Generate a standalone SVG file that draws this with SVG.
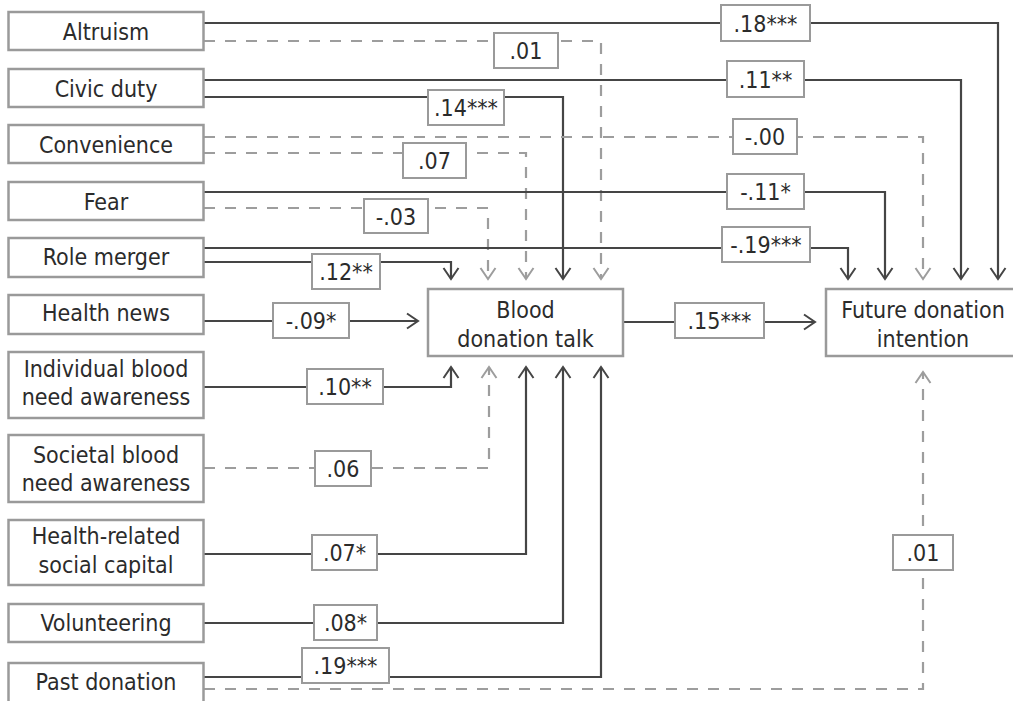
<svg xmlns="http://www.w3.org/2000/svg" width="1013" height="701" viewBox="0 0 1013 701">
<style>
.node rect{fill:#fff;stroke:#9a9a9a;stroke-width:2.5}
.node text,.lbl text{font-family:"DejaVu Sans Condensed","DejaVu Sans",sans-serif;font-stretch:condensed;font-size:23px;fill:#2b2b2b;text-anchor:middle}
.lbl rect{fill:#fff;stroke:#9a9a9a;stroke-width:2}
.s{fill:none;stroke:#454545;stroke-width:2.2;marker-end:url(#ah)}
.d{fill:none;stroke:#9d9d9d;stroke-width:2.2;stroke-dasharray:11 10;marker-end:url(#ahd)}
</style>
<defs>
<marker id="ah" markerUnits="userSpaceOnUse" viewBox="-14 -10 16 20" refX="0" refY="0" markerWidth="16" markerHeight="20" orient="auto">
<path d="M-11,-7.5 L0,0 L-11,7.5" fill="none" stroke="#454545" stroke-width="2"/>
</marker>
<marker id="ahd" markerUnits="userSpaceOnUse" viewBox="-14 -10 16 20" refX="0" refY="0" markerWidth="16" markerHeight="20" orient="auto">
<path d="M-11,-7.5 L0,0 L-11,7.5" fill="none" stroke="#9d9d9d" stroke-width="2"/>
</marker>
</defs>
<rect width="1013" height="701" fill="#fff"/>
<g id="connectors">
<path class="s" d="M204,23 H998 V279"/>
<path class="d" d="M204,41 H601 V279"/>
<path class="s" d="M204,80 H961 V279"/>
<path class="s" d="M204,97 H563 V279"/>
<path class="d" d="M204,137 H923 V279"/>
<path class="d" d="M204,153 H526 V279"/>
<path class="s" d="M204,192 H885 V279"/>
<path class="d" d="M204,208 H488 V279"/>
<path class="s" d="M204,248 H848 V279"/>
<path class="s" d="M204,262 H451 V279"/>
<path class="s" d="M204,321 H418"/>
<path class="s" d="M204,387 H451 V367"/>
<path class="d" d="M204,468 H489 V367"/>
<path class="s" d="M204,554 H526 V367"/>
<path class="s" d="M204,623 H563 V367"/>
<path class="s" d="M204,677 H601 V367"/>
<path class="d" d="M204,689 H923 V372"/>
<path class="s" d="M624,322 H815"/>
</g>
<g id="labels" class="lbl">
<g><rect x="721" y="5" width="89" height="36"/><text x="765.5" y="31.5">.18***</text></g>
<g><rect x="494" y="33" width="64" height="35"/><text x="526" y="59">.01</text></g>
<g><rect x="727" y="61" width="77" height="36"/><text x="765.5" y="87.5">.11**</text></g>
<g><rect x="428" y="90" width="76" height="35"/><text x="466" y="116">.14***</text></g>
<g><rect x="733" y="119" width="64" height="35"/><text x="765" y="145">-.00</text></g>
<g><rect x="403" y="143" width="63" height="35"/><text x="434.5" y="169">.07</text></g>
<g><rect x="727" y="174" width="77" height="35"/><text x="765.5" y="200">-.11*</text></g>
<g><rect x="364" y="199" width="64" height="34"/><text x="396" y="224.5">-.03</text></g>
<g><rect x="722" y="227" width="88" height="35"/><text x="766" y="253">-.19***</text></g>
<g><rect x="312" y="254" width="68" height="35"/><text x="346" y="280">.12**</text></g>
<g><rect x="273" y="303" width="76" height="35"/><text x="311" y="329">-.09*</text></g>
<g><rect x="675" y="303" width="89" height="35"/><text x="719.5" y="329">.15***</text></g>
<g><rect x="307" y="369" width="76" height="35"/><text x="345" y="395">.10**</text></g>
<g><rect x="315" y="451" width="56" height="35"/><text x="343" y="477">.06</text></g>
<g><rect x="312" y="535" width="65" height="35"/><text x="344.5" y="561">.07*</text></g>
<g><rect x="314" y="605" width="63" height="35"/><text x="345.5" y="631">.08*</text></g>
<g><rect x="302" y="648" width="87" height="35"/><text x="345.5" y="674">.19***</text></g>
<g><rect x="893" y="535" width="60" height="35"/><text x="923" y="561">.01</text></g>
</g>
<g id="n-altruism" class="node"><rect x="8.5" y="12" width="195" height="38"/><text x="106" y="40">Altruism</text></g>
<g id="n-civic" class="node"><rect x="8.5" y="69" width="195" height="38"/><text x="106" y="97">Civic duty</text></g>
<g id="n-convenience" class="node"><rect x="8.5" y="125" width="195" height="38"/><text x="106" y="153">Convenience</text></g>
<g id="n-fear" class="node"><rect x="8.5" y="182" width="195" height="38"/><text x="106" y="209.5">Fear</text></g>
<g id="n-role" class="node"><rect x="8.5" y="238" width="195" height="39"/><text x="106" y="265">Role merger</text></g>
<g id="n-news" class="node"><rect x="8.5" y="295" width="195" height="39"/><text x="106" y="321">Health news</text></g>
<g id="n-individual" class="node"><rect x="8.5" y="352" width="195" height="66"/><text x="106" y="377">Individual blood</text><text x="106" y="405">need awareness</text></g>
<g id="n-societal" class="node"><rect x="8.5" y="435" width="195" height="67"/><text x="106" y="462.5">Societal blood</text><text x="106" y="491">need awareness</text></g>
<g id="n-social" class="node"><rect x="8.5" y="520" width="195" height="65"/><text x="106" y="544">Health-related</text><text x="106" y="573">social capital</text></g>
<g id="n-volunteering" class="node"><rect x="8.5" y="604" width="195" height="38"/><text x="106" y="631">Volunteering</text></g>
<g id="n-past" class="node"><rect x="8.5" y="663" width="195" height="44"/><text x="106" y="690">Past donation</text></g>
<g id="n-talk" class="node"><rect x="428" y="289" width="195" height="67"/><text x="525.5" y="318">Blood</text><text x="525.5" y="347">donation talk</text></g>
<g id="n-intention" class="node"><rect x="826" y="289" width="196" height="67"/><text x="923" y="318">Future donation</text><text x="923" y="347">intention</text></g>
</svg>
